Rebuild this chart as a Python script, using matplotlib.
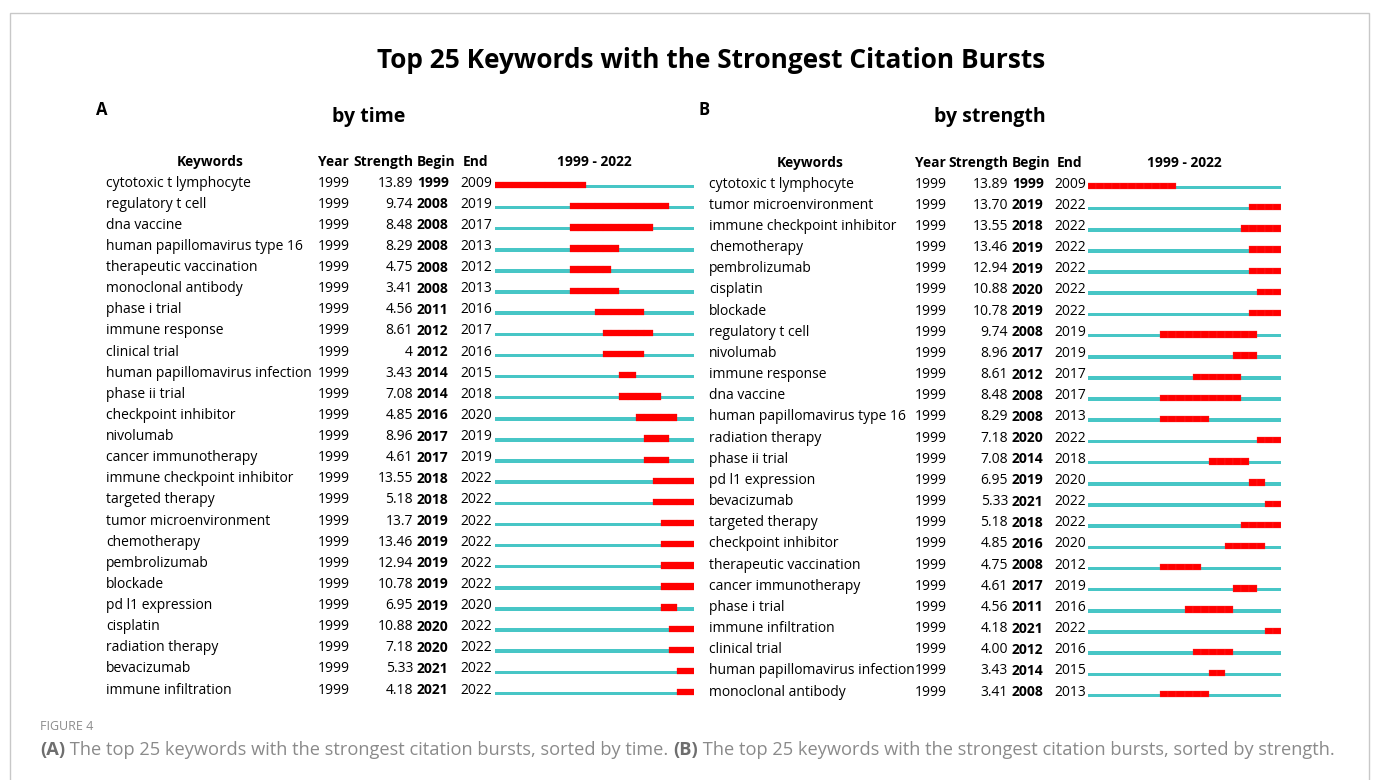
import matplotlib.pyplot as plt
import matplotlib.transforms as mtransforms
from matplotlib.patches import Rectangle
import numpy as np

plt.rcParams['font.family'] = ['Open Sans', 'DejaVu Sans']

# panel A, sorted by time
kw_time = ['cytotoxic t lymphocyte', 'regulatory t cell', 'dna vaccine', 'human papillomavirus type 16',
           'therapeutic vaccination', 'monoclonal antibody', 'phase i trial', 'immune response',
           'clinical trial', 'human papillomavirus infection', 'phase ii trial', 'checkpoint inhibitor',
           'nivolumab', 'cancer immunotherapy', 'immune checkpoint inhibitor', 'targeted therapy',
           'tumor microenvironment', 'chemotherapy', 'pembrolizumab', 'blockade', 'pd l1 expression',
           'cisplatin', 'radiation therapy', 'bevacizumab', 'immune infiltration']
str_time = [13.89, 9.74, 8.48, 8.29, 4.75, 3.41, 4.56, 8.61, 4, 3.43, 7.08, 4.85, 8.96, 4.61,
            13.55, 5.18, 13.7, 13.46, 12.94, 10.78, 6.95, 10.88, 7.18, 5.33, 4.18]
begin_time = [1999, 2008, 2008, 2008, 2008, 2008, 2011, 2012, 2012, 2014, 2014, 2016, 2017, 2017,
              2018, 2018, 2019, 2019, 2019, 2019, 2019, 2020, 2020, 2021, 2021]
end_time = [2009, 2019, 2017, 2013, 2012, 2013, 2016, 2017, 2016, 2015, 2018, 2020, 2019, 2019,
            2022, 2022, 2022, 2022, 2022, 2022, 2020, 2022, 2022, 2022, 2022]

# panel B, sorted by strength
kw_str = ['cytotoxic t lymphocyte', 'tumor microenvironment', 'immune checkpoint inhibitor', 'chemotherapy',
          'pembrolizumab', 'cisplatin', 'blockade', 'regulatory t cell', 'nivolumab', 'immune response',
          'dna vaccine', 'human papillomavirus type 16', 'radiation therapy', 'phase ii trial',
          'pd l1 expression', 'bevacizumab', 'targeted therapy', 'checkpoint inhibitor',
          'therapeutic vaccination', 'cancer immunotherapy', 'phase i trial', 'immune infiltration',
          'clinical trial', 'human papillomavirus infection', 'monoclonal antibody']
str_str = [13.89, 13.70, 13.55, 13.46, 12.94, 10.88, 10.78, 9.74, 8.96, 8.61, 8.48, 8.29, 7.18, 7.08,
           6.95, 5.33, 5.18, 4.85, 4.75, 4.61, 4.56, 4.18, 4.00, 3.43, 3.41]
begin_str = [1999, 2019, 2018, 2019, 2019, 2020, 2019, 2008, 2017, 2012, 2008, 2008, 2020, 2014,
             2019, 2021, 2018, 2016, 2008, 2017, 2011, 2021, 2012, 2014, 2008]
end_str = [2009, 2022, 2022, 2022, 2022, 2022, 2022, 2019, 2019, 2017, 2017, 2013, 2022, 2018,
           2020, 2022, 2022, 2020, 2012, 2019, 2016, 2022, 2016, 2015, 2013]

first_year = 1999
years = np.arange(1999, 2023)

TEAL = '#47c6c6'
RED = '#ff0000'
W, H = 1373, 780

fig = plt.figure(figsize=(W / 100, H / 100), dpi=100)


def fx(px):
    return px / W


def fy(py):
    return 1 - py / H


# outer frame
fig.patches.append(Rectangle((fx(10), -0.05), fx(1359), fy(13) + 0.05, transform=fig.transFigure,
                             fill=False, edgecolor='#c8c8c8', linewidth=1.0))

fig.text(fx(711), fy(61), 'Top 25 Keywords with the Strongest Citation Bursts',
         ha='center', va='center', fontsize=18.9, fontweight='bold')


def panel(label, sub, lab_x, sub_x, bar_x0, bar_x1, top_c, step, cols, kws, strengths, begins, ends, fmt,
          red_edge):
    n = len(kws)
    top = top_c - step / 2
    bottom = top_c + step * (n - 1) + step / 2
    ax = fig.add_axes([fx(bar_x0), fy(bottom), fx(bar_x1 - bar_x0), (bottom - top) / H])
    ax.set_xlim(years[0], years[-1] + 1)
    ax.set_ylim(n - 0.5, -0.5)
    ax.axis('off')

    for i in range(n):
        ax.barh(i + 0.02, len(years), left=years[0], height=0.17, color=TEAL, linewidth=0)
        span = np.arange(begins[i], ends[i] + 1)
        ax.barh(np.full(len(span), i - 0.04), np.ones(len(span)), left=span, height=0.30,
                color=RED, edgecolor=red_edge, linewidth=0.2)

    tr = mtransforms.blended_transform_factory(fig.transFigure, ax.transData)
    dy = -0.14
    fs = 10
    hfs = 9.9
    hy = -1 + dy
    ax.text(fx(cols['kw_h']), hy, 'Keywords', transform=tr, ha='center', va='center',
            fontsize=hfs, fontweight='bold')
    ax.text(fx(cols['year']), hy, 'Year', transform=tr, ha='left', va='center', fontsize=hfs, fontweight='bold')
    ax.text(fx(cols['str_r']), hy, 'Strength', transform=tr, ha='right', va='center', fontsize=hfs,
            fontweight='bold')
    ax.text(fx(cols['begin']), hy, 'Begin', transform=tr, ha='left', va='center', fontsize=hfs,
            fontweight='bold')
    ax.text(fx(cols['end']) + fx(3), hy, 'End', transform=tr, ha='left', va='center', fontsize=hfs,
            fontweight='bold')
    ax.text(fx((bar_x0 + bar_x1) / 2), hy, f'{first_year} - {years[-1]}', transform=tr, ha='center',
            va='center', fontsize=hfs, fontweight='bold')

    for i in range(n):
        y = i + dy
        ax.text(fx(cols['kw']), y, kws[i], transform=tr, ha='left', va='center', fontsize=fs)
        ax.text(fx(cols['year']), y, str(first_year), transform=tr, ha='left', va='center', fontsize=fs)
        ax.text(fx(cols['str_r']), y, fmt(strengths[i]), transform=tr, ha='right', va='center', fontsize=fs)
        ax.text(fx(cols['begin']), y, str(begins[i]), transform=tr, ha='left', va='center', fontsize=fs,
                fontweight='bold')
        ax.text(fx(cols['end']), y, str(ends[i]), transform=tr, ha='left', va='center', fontsize=fs)

    fig.text(fx(lab_x), fy(110), label, ha='left', va='center', fontsize=12, fontweight='bold')
    fig.text(fx(sub_x), fy(117), sub, ha='center', va='center', fontsize=14, fontweight='bold')


panel('A', 'by time', 96, 369, 495, 694, 186, 21.125,
      dict(kw=106, kw_h=210, year=318, str_r=413, begin=417, end=460),
      kw_time, str_time, begin_time, end_time, lambda v: f'{v:g}', RED)
panel('B', 'by strength', 698, 990, 1088, 1281, 187, 21.17,
      dict(kw=709, kw_h=810, year=915, str_r=1008, begin=1012, end=1054),
      kw_str, str_str, begin_str, end_str, lambda v: f'{v:.2f}', '#ff3838')

# caption
fig.text(fx(40), fy(727), 'FIGURE 4', ha='left', va='center', fontsize=9, color='#8c8c8c')
parts = [('(A)', True), (' The top 25 keywords with the strongest citation bursts, sorted by time. ', False),
         ('(B)', True), (' The top 25 keywords with the strongest citation bursts, sorted by strength.', False)]
renderer = fig.canvas.get_renderer()
x = fx(40)
for txt, bold in parts:
    t = fig.text(x, fy(750), txt, ha='left', va='center', fontsize=13.15,
                 color='#6e6e6e' if bold else '#8a8a8a', fontweight='bold' if bold else 'normal')
    bb = t.get_window_extent(renderer)
    x += bb.width / W

fig.savefig('out.png', dpi=100)
